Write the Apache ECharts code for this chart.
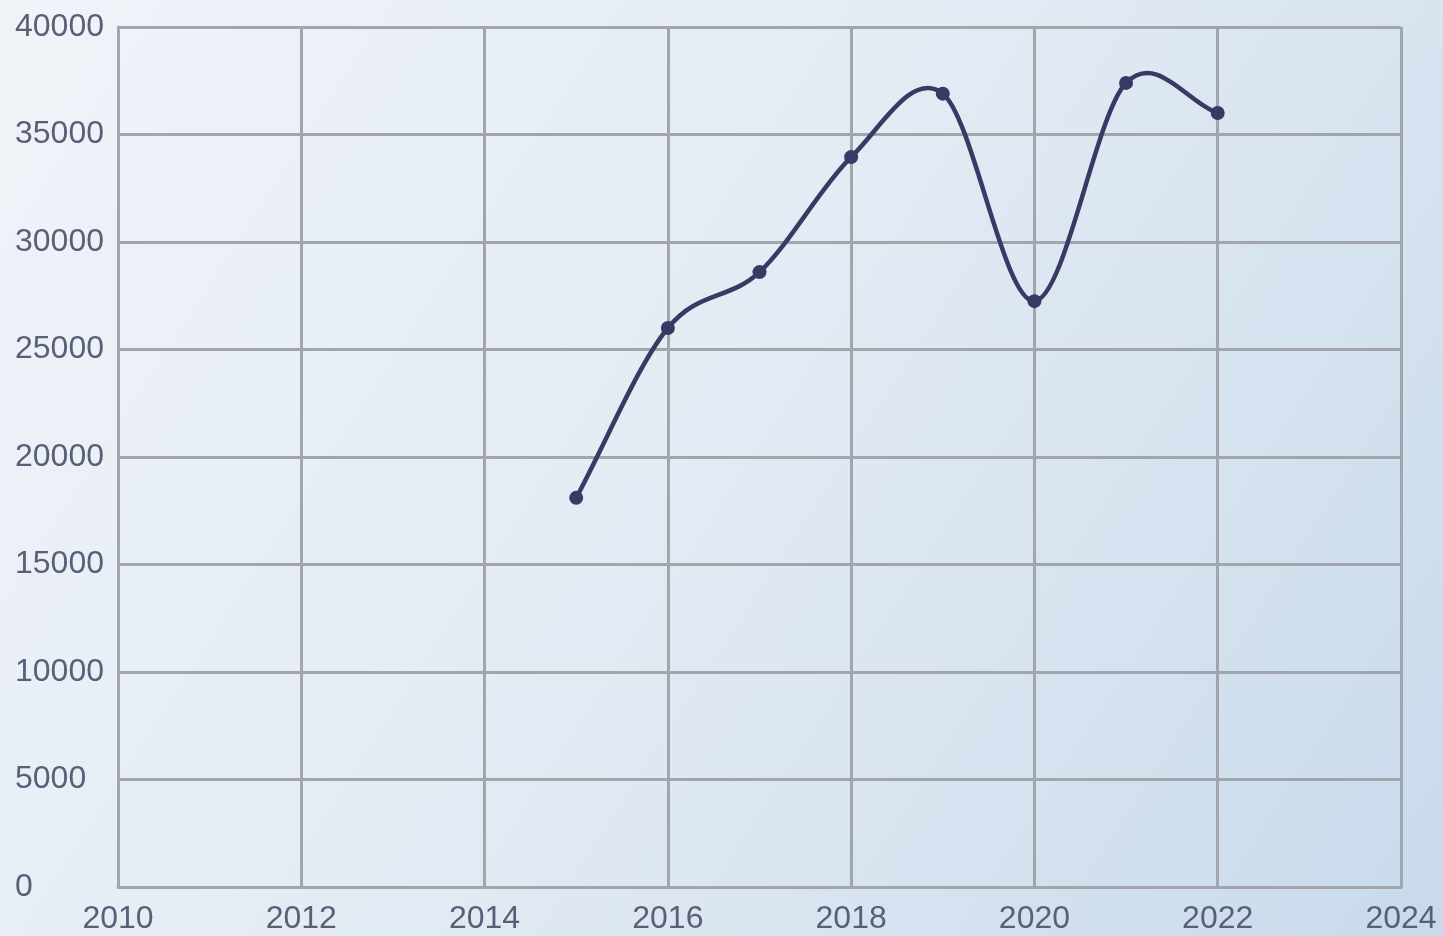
<!DOCTYPE html>
<html><head><meta charset="utf-8">
<script src="https://cdn.jsdelivr.net/npm/echarts@6/dist/echarts.min.js"></script>
<style>html,body{margin:0;padding:0;width:100%;height:100%;}#c{width:1443px;height:936px;}</style>
</head><body><div id="c"></div>
<script>
const years = [2015, 2016, 2017, 2018, 2019, 2020, 2021, 2022];
const values = [18100, 26000, 28600, 33950, 36900, 27250, 37400, 36000];
const xMin = 2010, xMax = 2024, xStep = 2;
const yMin = 0, yMax = 40000, yStep = 5000;

const chart = echarts.init(document.getElementById('c'));
const labelColor = '#5a5f78';
const gridColor = '#a2a5ac';
const lineColor = '#373a63';
const pts = years.map((y, i) => [y, values[i]]);

// Catmull-Rom style smooth segment between data point i and i+1, positioned via the axes
function renderSegment(params, api) {
  const i = params.dataIndex;
  const n = pts.length;
  if (i >= n - 1) return null;
  const P = pts.map(p => api.coord(p));
  const tangent = k => {
    if (k === 0) return [P[1][0] - P[0][0], P[1][1] - P[0][1]];
    if (k === n - 1) return [P[n - 1][0] - P[n - 2][0], P[n - 1][1] - P[n - 2][1]];
    return [(P[k + 1][0] - P[k - 1][0]) / 2, (P[k + 1][1] - P[k - 1][1]) / 2];
  };
  const m0 = tangent(i), m1 = tangent(i + 1);
  return {
    type: 'bezierCurve',
    shape: {
      x1: P[i][0], y1: P[i][1],
      x2: P[i + 1][0], y2: P[i + 1][1],
      cpx1: P[i][0] + m0[0] / 3, cpy1: P[i][1] + m0[1] / 3,
      cpx2: P[i + 1][0] - m1[0] / 3, cpy2: P[i + 1][1] - m1[1] / 3
    },
    style: {stroke: lineColor, lineWidth: 4.5, fill: null, lineCap: 'round'}
  };
}

chart.setOption({
  backgroundColor: {
    type: 'linear', x: 0, y: 0, x2: 1, y2: 1,
    colorStops: [{offset: 0, color: '#f0f4f9'}, {offset: 0.5, color: '#e2eaf3'}, {offset: 1, color: '#c8daeb'}]
  },
  animation: false,
  grid: {left: 118, right: 42, top: 27, bottom: 49, containLabel: false},
  xAxis: {
    type: 'value', min: xMin, max: xMax, interval: xStep,
    axisLine: {show: true, lineStyle: {color: gridColor, width: 3}},
    axisTick: {show: false},
    splitLine: {show: true, lineStyle: {color: gridColor, width: 3}},
    axisLabel: {color: labelColor, fontSize: 32, fontFamily: 'Liberation Sans, Arial, sans-serif', margin: 16,
      formatter: v => String(v)}
  },
  yAxis: {
    type: 'value', min: yMin, max: yMax, interval: yStep,
    axisLine: {show: true, lineStyle: {color: gridColor, width: 3}},
    axisTick: {show: false},
    splitLine: {show: true, lineStyle: {color: gridColor, width: 3}},
    axisLabel: {color: labelColor, fontSize: 32, fontFamily: 'Liberation Sans, Arial, sans-serif', align: 'left', margin: 103,
      formatter: v => String(v)}
  },
  series: [{
    type: 'custom',
    renderItem: renderSegment,
    data: pts,
    encode: {x: 0, y: 1},
    z: 2
  }, {
    type: 'scatter',
    data: pts,
    symbol: 'circle', symbolSize: 14,
    itemStyle: {color: lineColor, opacity: 1},
    z: 3
  }]
});
</script></body></html>
